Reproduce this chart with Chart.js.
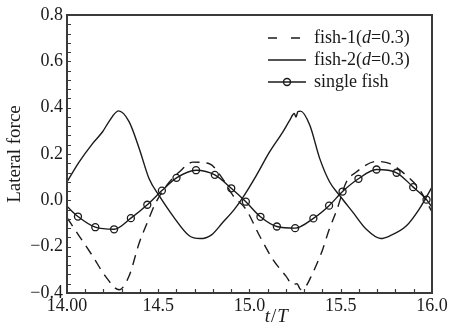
<!DOCTYPE html>
<html>
<head>
<meta charset="utf-8">
<script src="https://cdn.jsdelivr.net/npm/chart.js@4.4.0/dist/chart.umd.min.js"></script>
<style>
  html, body { margin: 0; padding: 0; background: #fff; }
  #wrap { width: 452px; height: 327px; }
</style>
</head>
<body>
<div id="wrap"><canvas id="c" width="452" height="327"></canvas></div>
<script>
// ── DATA ──
const FISH1_T = [14.0, 14.066, 14.14, 14.21, 14.286, 14.34, 14.396, 14.44, 14.487, 14.56, 14.615, 14.69, 14.78, 14.853, 14.91, 14.98, 15.055, 15.128, 15.2, 15.238, 15.26, 15.28, 15.3, 15.345, 15.4, 15.436, 15.48, 15.53, 15.585, 15.696, 15.77, 15.86, 15.93, 16.0];
const FISH1_V = [-0.075, -0.153, -0.24, -0.327, -0.386, -0.327, -0.183, -0.096, -0.009, 0.078, 0.122, 0.165, 0.158, 0.093, 0.02, -0.038, -0.153, -0.255, -0.327, -0.364, -0.36, -0.385, -0.38, -0.316, -0.214, -0.127, -0.038, 0.078, 0.122, 0.168, 0.158, 0.107, 0.049, -0.05];

const FISH2_T = [14.0, 14.066, 14.14, 14.195, 14.23, 14.282, 14.34, 14.396, 14.45, 14.505, 14.58, 14.67, 14.73, 14.79, 14.853, 14.918, 14.964, 15.037, 15.11, 15.183, 15.22, 15.245, 15.255, 15.265, 15.28, 15.33, 15.385, 15.44, 15.495, 15.567, 15.64, 15.72, 15.77, 15.86, 15.93, 16.0];
const FISH2_V = [0.08, 0.165, 0.245, 0.296, 0.34, 0.386, 0.34, 0.223, 0.093, 0.02, -0.067, -0.153, -0.165, -0.15, -0.096, -0.038, 0.013, 0.107, 0.209, 0.296, 0.345, 0.375, 0.36, 0.383, 0.385, 0.325, 0.18, 0.078, 0.02, -0.052, -0.125, -0.165, -0.153, -0.11, -0.038, 0.057];

const SINGLE_T = [14.0, 14.06, 14.155, 14.258, 14.35, 14.44, 14.52, 14.6, 14.707, 14.81, 14.9, 14.98, 15.06, 15.15, 15.25, 15.35, 15.436, 15.51, 15.597, 15.696, 15.806, 15.897, 15.97, 16.0];
const SINGLE_V = [-0.026, -0.07, -0.116, -0.125, -0.077, -0.019, 0.042, 0.097, 0.13, 0.11, 0.052, -0.006, -0.071, -0.113, -0.12, -0.078, -0.023, 0.038, 0.093, 0.133, 0.119, 0.057, 0.003, -0.03];

const LABELS = ['fish-1(d=0.3)', 'fish-2(d=0.3)', 'single fish'];
const X_MIN = 14, X_MAX = 16, X_STEP = 0.5, X_MINOR = 0.1;
const Y_MIN = -0.4, Y_MAX = 0.8, Y_STEP = 0.2, Y_MINOR = 0.04;

const INK = '#1a1a1a';
const FRAME = '#3a3a3a';
const SERIF = "'Liberation Serif', 'DejaVu Serif', serif";

const pts = (ts, vs) => ts.map((t, i) => ({ x: t, y: vs[i] }));

// ── draw text with italic 'd' in "(d=" ──
function drawRich(ctx, text, x, y, size) {
  const m = text.match(/^(.*\()d(=.*)$/);
  const parts = m ? [[m[1], false], ['d', true], [m[2], false]] : [[text, false]];
  parts.forEach(([s, it]) => {
    ctx.font = (it ? 'italic ' : '') + size + 'px ' + SERIF;
    ctx.fillText(s, x, y);
    x += ctx.measureText(s).width;
  });
}

// ── FRAME, INWARD TICKS, X TITLE, LEGEND ──
const decor = {
  id: 'decor',
  afterDraw(chart) {
    const { ctx, chartArea: a, scales: { x, y } } = chart;
    ctx.save();
    // inward minor ticks
    ctx.strokeStyle = FRAME; ctx.lineWidth = 1.2;
    ctx.beginPath();
    for (let v = X_MIN + X_MINOR; v < X_MAX - 1e-6; v += X_MINOR) {
      const px = Math.round(x.getPixelForValue(v)) + 0.5;
      ctx.moveTo(px, a.bottom); ctx.lineTo(px, a.bottom - 4);
    }
    for (let v = Y_MIN + Y_MINOR; v < Y_MAX - 1e-6; v += Y_MINOR) {
      const py = Math.round(y.getPixelForValue(v)) + 0.5;
      ctx.moveTo(a.left, py); ctx.lineTo(a.left + 4, py);
    }
    ctx.stroke();
    // frame
    ctx.lineWidth = 2;
    ctx.strokeRect(a.left, a.top, a.right - a.left, a.bottom - a.top);

    // x title  t/T
    ctx.fillStyle = INK;
    ctx.textBaseline = 'middle';
    const segs = [['t', true], ['/', false], ['T', true]];
    let w = 0;
    segs.forEach(([s, it]) => { ctx.font = (it ? 'italic ' : '') + '19px ' + SERIF; w += ctx.measureText(s).width + 1; });
    let tx = x.getPixelForValue(15.15) - w / 2;
    segs.forEach(([s, it]) => {
      ctx.font = (it ? 'italic ' : '') + '19px ' + SERIF;
      ctx.fillText(s, tx, 317);
      tx += ctx.measureText(s).width + 1;
    });

    // legend
    const lx0 = a.right - 164, lx1 = a.right - 126, txx = a.right - 118;
    chart.data.datasets.forEach((ds, i) => {
      const ry = a.top + 23 + i * 22;
      ctx.strokeStyle = INK; ctx.lineWidth = 1.4;
      ctx.setLineDash(i === 0 ? [9, 14] : []);
      ctx.beginPath(); ctx.moveTo(lx0, ry); ctx.lineTo(lx1, ry); ctx.stroke();
      ctx.setLineDash([]);
      if (i === 2) {
        ctx.beginPath(); ctx.arc((lx0 + lx1) / 2, ry, 3.5, 0, Math.PI * 2); ctx.stroke();
      }
      ctx.fillStyle = INK;
      ctx.textBaseline = 'middle';
      drawRich(ctx, ds.label, txx, ry, 18);
    });
    ctx.restore();
  }
};

const lineBase = {
  borderColor: INK, borderWidth: 1.4, pointRadius: 0, fill: false,
  cubicInterpolationMode: 'monotone'
};

new Chart(document.getElementById('c'), {
  type: 'line',
  data: {
    datasets: [
      { ...lineBase, label: LABELS[0], data: pts(FISH1_T, FISH1_V), borderDash: [10, 7] },
      { ...lineBase, label: LABELS[1], data: pts(FISH2_T, FISH2_V) },
      { ...lineBase, label: LABELS[2], data: pts(SINGLE_T, SINGLE_V),
        pointRadius: SINGLE_T.map((t, i) => (i === 0 || i === SINGLE_T.length - 1) ? 0 : 3.5),
        pointBorderColor: INK, pointBackgroundColor: 'rgba(0,0,0,0)', pointBorderWidth: 1.3 }
    ]
  },
  options: {
    responsive: false, animation: false, devicePixelRatio: 1,
    layout: { padding: { top: 15, right: 20, left: 0, bottom: 0 } },
    plugins: { legend: { display: false }, tooltip: { enabled: false } },
    scales: {
      x: {
        type: 'linear', min: X_MIN, max: X_MAX,
        grid: { display: false, drawTicks: false },
        border: { display: false },
        ticks: {
          stepSize: X_STEP, color: INK, padding: 2, maxRotation: 0,
          font: { family: SERIF, size: 18 },
          callback: v => Math.abs(v - 14) < 1e-9 ? '14.00' : (Math.round(v * 10) / 10).toFixed(1)
        },
        afterFit: s => { s.height = 34; }
      },
      y: {
        min: Y_MIN, max: Y_MAX,
        grid: { display: false, drawTicks: false },
        border: { display: false },
        title: { display: true, text: 'Lateral force', color: INK, font: { family: SERIF, size: 19 }, padding: { top: 4, bottom: 0 } },
        ticks: {
          stepSize: Y_STEP, color: INK, padding: 4,
          font: { family: SERIF, size: 18 },
          callback: v => { const r = Math.round(v * 10) / 10; return r < 0 ? '\u2212' + Math.abs(r).toFixed(1) : r.toFixed(1); }
        },
        afterFit: s => { s.width = 67; }
      }
    }
  },
  plugins: [decor]
});
</script>
</body>
</html>
